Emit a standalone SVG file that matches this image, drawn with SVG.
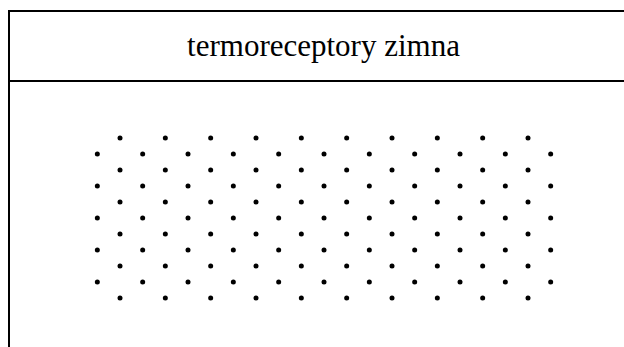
<svg xmlns="http://www.w3.org/2000/svg" width="624" height="347" viewBox="0 0 624 347">
  <style>
    .rule { stroke: #000; stroke-width: 2; fill: none; }
    .title { font-family: "Liberation Serif", "Times New Roman", serif; font-size: 31px; fill: #000; }
    .dot { fill: #000; }
  </style>
  <defs>
    <circle id="d" r="2.5" class="dot"/>
  </defs>
  <rect width="624" height="347" fill="#fff"/>
  <g id="frame">
    <line class="rule" x1="9" y1="11" x2="624" y2="11"/>
    <line class="rule" x1="9" y1="81" x2="624" y2="81"/>
    <line class="rule" x1="9" y1="10" x2="9" y2="347"/>
  </g>
  <g id="header">
    <text class="title" x="323.5" y="56" text-anchor="middle">termoreceptory zimna</text>
  </g>
  <g id="dots">
    <!-- rows of 10 dots, starting at x=120 -->
    <g id="rowA">
      <use href="#d" x="120" y="138"/><use href="#d" x="165.33" y="138"/><use href="#d" x="210.67" y="138"/><use href="#d" x="256" y="138"/><use href="#d" x="301.33" y="138"/><use href="#d" x="346.67" y="138"/><use href="#d" x="392" y="138"/><use href="#d" x="437.33" y="138"/><use href="#d" x="482.67" y="138"/><use href="#d" x="528" y="138"/>
    </g>
    <use href="#rowA" y="32"/>
    <use href="#rowA" y="64"/>
    <use href="#rowA" y="96"/>
    <use href="#rowA" y="128"/>
    <use href="#rowA" y="160"/>
    <!-- rows of 11 dots, starting at x=97.3 -->
    <g id="rowB">
      <use href="#d" x="97.33" y="154"/><use href="#d" x="142.67" y="154"/><use href="#d" x="188" y="154"/><use href="#d" x="233.33" y="154"/><use href="#d" x="278.67" y="154"/><use href="#d" x="324" y="154"/><use href="#d" x="369.33" y="154"/><use href="#d" x="414.67" y="154"/><use href="#d" x="460" y="154"/><use href="#d" x="505.33" y="154"/><use href="#d" x="550.67" y="154"/>
    </g>
    <use href="#rowB" y="32"/>
    <use href="#rowB" y="64"/>
    <use href="#rowB" y="96"/>
    <use href="#rowB" y="128"/>
  </g>
</svg>
